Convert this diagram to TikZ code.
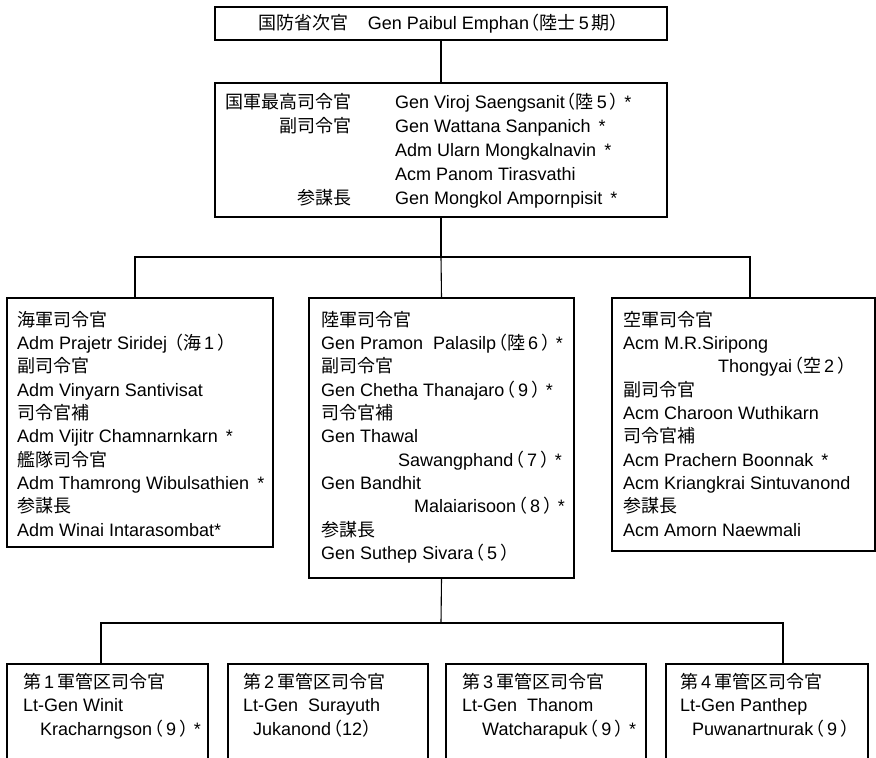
\documentclass[tikz,border=0pt]{standalone}
\usepackage{fontspec}
\setmainfont{Liberation Sans}
\newfontfamily\jpfont{Noto Sans CJK JP}
\newcommand{\J}[1]{{\jpfont #1}}
\newcommand{\Lp}{\hspace{-0.4em}\J{（}}
\newcommand{\Rp}{\J{）}\hspace{-0.35em}}
\tikzset{
  box/.style={draw, line width=1.1pt, inner sep=0pt},
  conn/.style={line width=1.1pt},
  txt/.style={inner sep=0pt, align=left, anchor=north west, font=\fontsize{18}{23.3}\selectfont},
  txtr/.style={inner sep=0pt, align=right, anchor=north east, font=\fontsize{18}{24}\selectfont},
  txtl/.style={inner sep=0pt, align=left, anchor=north west, font=\fontsize{18}{24}\selectfont},
}
\begin{document}
\begin{tikzpicture}[x=1pt,y=-1pt]
\useasboundingbox (0,0) rectangle (876,758);
\fill[white] (0,0) rectangle (876,758);

% boxes
\node[box, minimum width=452pt, minimum height=33pt] (top) at (441,23.5) {};
\node[box, minimum width=452pt, minimum height=134pt] (cmd) at (441,150) {};
\node[box, minimum width=266pt, minimum height=249pt] (navy) at (140,422.5) {};
\node[box, minimum width=265pt, minimum height=280pt] (army) at (441.5,438) {};
\node[box, minimum width=263pt, minimum height=253pt] (air) at (743.5,424.5) {};
\node[box, minimum width=201pt, minimum height=96pt] (r1) at (107.5,712) {};
\node[box, minimum width=200pt, minimum height=96pt] (r2) at (328,712) {};
\node[box, minimum width=200pt, minimum height=96pt] (r3) at (546,712) {};
\node[box, minimum width=202pt, minimum height=96pt] (r4) at (767,712) {};

% connectors
\coordinate (j1) at (441,257);
\coordinate (j2) at (441,623);
\draw[conn] (top.south) -- (cmd.north);
\draw[conn] (cmd.south) -- (j1);
\draw[conn] (navy.north -| 135,0) |- (j1) -| (air.north -| 750,0);
\draw[conn] (j1) -- (army.north);
\draw[conn] (army.south) -- (j2);
\draw[conn] (r1.north -| 101,0) |- (j2) -| (r4.north -| 783,0);
\draw[conn] (r2.north -| 326,0) -- (r2.north -| 326,623);
\draw[conn] (r3.north -| 556,0) -- (r3.north -| 556,623);

% texts
\node[inner sep=0pt, font=\fontsize{18}{23.3}\selectfont] (toptext) at (443,24)
  {\J{国防省次官}\hspace{1.1em}Gen Paibul Emphan\Lp\J{陸士}\,5\,\J{期}\Rp};

\node[txtr] (cmdlab) at (352,93)
  {\J{国軍最高司令官}\\\J{副司令官}\\\mbox{}\\\mbox{}\\\J{参謀長}};
\node[txtl] (cmdnames) at (395,93)
  {Gen Viroj Saengsanit\Lp\J{陸}\,5\,\Rp\,*\\
   Gen Wattana Sanpanich \,*\\
   Adm Ularn Mongkalnavin \,*\\
   Acm Panom Tirasvathi\\
   Gen Mongkol Ampornpisit \,*};

\node[txt] (navytext) at (17,311)
  {\J{海軍司令官}\\
   Adm Prajetr Siridej \Lp\J{海}\,1\,\Rp\\
   \J{副司令官}\\
   Adm Vinyarn Santivisat\\
   \J{司令官補}\\
   Adm Vijitr Chamnarnkarn \,*\\
   \J{艦隊司令官}\\
   Adm Thamrong Wibulsathien \,*\\
   \J{参謀長}\\
   Adm Winai Intarasombat*};

\node[txt] (armytext) at (321,311)
  {\J{陸軍司令官}\\
   Gen Pramon\ \ Palasilp\Lp\J{陸}\,6\,\Rp\,*\\
   \J{副司令官}\\
   Gen Chetha Thanajaro\Lp\,9\,\Rp\,*\\
   \J{司令官補}\\
   Gen Thawal\\
   \hspace*{77pt}Sawangphand\Lp\,7\,\Rp\,*\\
   Gen Bandhit\\
   \hspace*{93pt}Malaiarisoon\Lp\,8\,\Rp\,*\\
   \J{参謀長}\\
   Gen Suthep Sivara\Lp\,5\,\Rp};

\node[txt] (airtext) at (623,311)
  {\J{空軍司令官}\\
   Acm M.R.Siripong\\
   \hspace*{95pt}Thongyai\Lp\J{空}\,2\,\Rp\\
   \J{副司令官}\\
   Acm Charoon Wuthikarn\\
   \J{司令官補}\\
   Acm Prachern Boonnak \,*\\
   Acm Kriangkrai Sintuvanond\\
   \J{参謀長}\\
   Acm Amorn Naewmali};

\node[txt] (r1text) at (23,673)
  {\J{第}\,1\,\J{軍管区司令官}\\
   Lt-Gen Winit\\
   \hspace*{17pt}Kracharngson\Lp\,9\,\Rp\,*};
\node[txt] (r2text) at (243,673)
  {\J{第}\,2\,\J{軍管区司令官}\\
   Lt-Gen\ \ Surayuth\\
   \hspace*{10pt}Jukanond\Lp 12\Rp};
\node[txt] (r3text) at (462,673)
  {\J{第}\,3\,\J{軍管区司令官}\\
   Lt-Gen\ \ Thanom\\
   \hspace*{20pt}Watcharapuk\Lp\,9\,\Rp\,*};
\node[txt] (r4text) at (680,673)
  {\J{第}\,4\,\J{軍管区司令官}\\
   Lt-Gen Panthep\\
   \hspace*{12pt}Puwanartnurak\Lp\,9\,\Rp};
\end{tikzpicture}
\end{document}
